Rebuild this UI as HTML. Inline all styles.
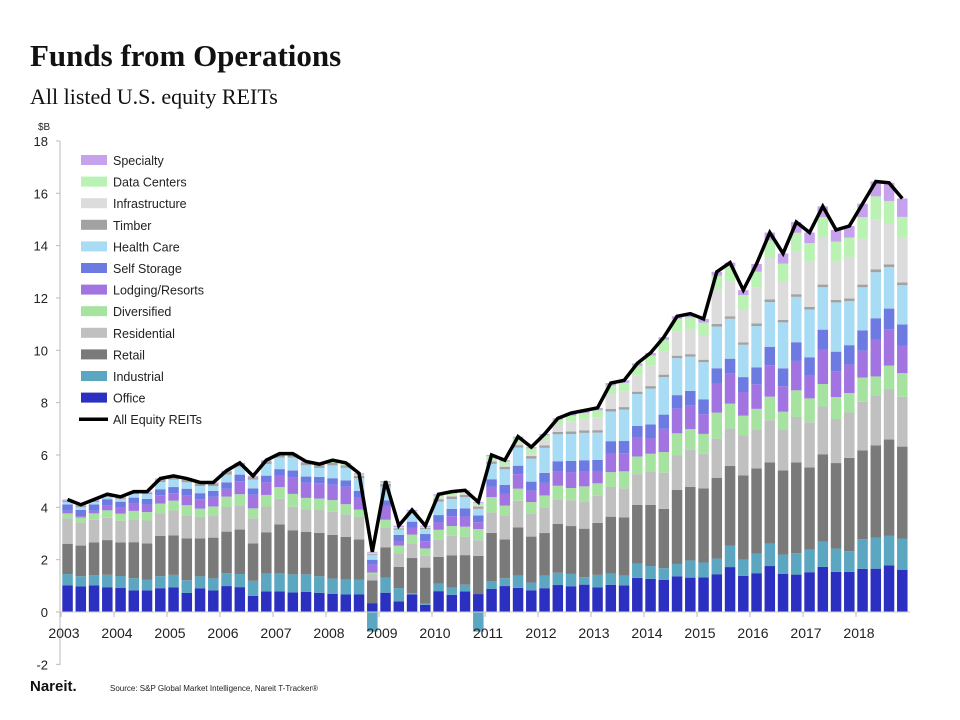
<!DOCTYPE html>
<html><head><meta charset="utf-8"><style>
body{margin:0;background:#fff;width:960px;height:720px;overflow:hidden;font-family:"Liberation Sans",sans-serif}
#title{position:absolute;left:30px;top:38px;font:bold 31px "Liberation Serif",serif;color:#111}
#sub{position:absolute;left:30px;top:84px;font:22px "Liberation Serif",serif;color:#111}
svg{position:absolute;left:0;top:0}
</style></head><body>
<div id="title">Funds from Operations</div>
<div id="sub">All listed U.S. equity REITs</div>
<svg id="c" width="960" height="720"></svg>
<script>
const years=['2003','2004','2005','2006','2007','2008','2009','2010','2011','2012','2013','2014','2015','2016','2017','2018'];
const yTicks=[-2,0,2,4,6,8,10,12,14,16,18];
const seriesNames=['Office','Industrial','Retail','Residential','Diversified','Lodging/Resorts','Self Storage','Health Care','Timber','Infrastructure','Data Centers','Specialty'];
const seriesColors=['#2c30c0','#5ba6c0','#7a7a7a','#c0c0c0','#a6e3a0','#a274e2','#6c7ae2','#a8dcf4','#a2a2a2','#dcdcdc','#b9f2b2','#c6a2ec'];
const office=[1.05,1.0,1.05,1.0,1.0,0.9,0.9,1.0,1.0,0.75,1.0,0.9,1.0,0.95,0.65,0.8,0.8,0.75,0.8,0.75,0.7,0.7,0.7,0.45,0.7,0.4,0.75,0.3,0.85,0.7,0.9,0.8,0.9,1.0,1.0,0.85,0.95,1.1,1.05,1.1,1.0,1.1,1.1,1.45,1.3,1.25,1.45,1.4,1.4,1.45,1.8,1.45,1.5,1.75,1.5,1.4,1.5,1.7,1.55,1.55,1.6,1.6,1.8,1.6];
const industrial=[.45,.4,.4,.5,.5,.5,.45,.5,.5,.5,.5,.5,.5,.5,.6,.7,.7,.7,.7,.65,.6,.6,.6,-.75,.55,.5,.05,.05,.3,.3,.3,-.75,.3,.3,.5,.3,.5,.5,.5,.3,.5,.45,.4,.6,.5,.45,.5,.7,.6,.6,.85,.65,.75,.85,.75,.8,.85,.95,.9,.8,1.1,1.15,1.15,1.2];
const retail=[1.2,1.2,1.3,1.4,1.4,1.5,1.5,1.7,1.6,1.65,1.6,1.7,1.6,1.7,1.5,1.6,1.9,1.7,1.7,1.7,1.7,1.7,1.6,1.15,1.1,0.8,1.5,1.5,1.1,1.3,1.3,1.7,1.9,1.5,2.0,1.8,1.7,2.0,1.95,1.95,2.1,2.3,2.4,2.5,2.4,2.3,3.0,3.0,3.0,3.1,3.2,3.4,3.3,3.1,3.3,3.4,3.1,3.3,3.3,3.6,3.3,3.4,3.7,3.5];
const residential=[1.0,.9,.9,.9,.9,.95,.95,.95,1.0,.9,.9,.9,.95,.9,1.0,1.0,1.0,.9,.9,.9,.9,.9,.9,.3,.7,.5,.6,.5,.7,.8,.8,.7,.8,.9,1.1,.9,1.0,1.0,1.05,1.1,1.1,1.2,1.2,1.3,1.3,1.4,1.4,1.5,1.4,1.5,1.5,1.6,1.5,1.6,1.6,1.7,1.7,1.8,1.7,1.75,1.8,1.85,1.95,1.9];
const diversified=[.2,.2,.25,.3,.3,.35,.35,.4,.4,.4,.35,.4,.4,.45,.4,.45,.45,.5,.45,.45,.45,.4,.3,.1,.3,.3,.4,.3,.4,.4,.45,.5,.6,.4,.5,.45,.5,.55,.5,.6,.5,.6,.7,.75,.7,.8,.9,.85,.8,1.0,1.0,.8,.8,.9,.7,1.0,.9,.85,.85,.75,.9,.7,.9,.9];
const lodging=[.1,.05,.1,.2,.25,.3,.3,.35,.3,.4,.4,.4,.3,.5,.55,.5,.45,.65,.6,.6,.6,.7,.5,.4,.5,.15,.3,.3,.3,.4,.45,.3,.4,.45,.6,.45,.5,.6,.65,.6,.5,.75,.75,.8,.6,.9,1.0,.95,.8,1.1,1.2,.95,.95,1.2,1.0,1.1,.85,1.3,1.0,1.1,1.0,1.35,1.4,1.05];
const storage=[.25,.25,.25,.25,.25,.25,.25,.25,.25,.25,.25,.25,.25,.25,.25,.25,.25,.25,.25,.25,.25,.25,.25,.25,.2,.25,.25,.3,.3,.3,.35,.3,.3,.35,.35,.35,.4,.4,.45,.45,.45,.5,.5,.5,.55,.55,.55,.6,.6,.6,.6,.6,.65,.7,.7,.7,.7,.75,.75,.75,.75,.8,.8,.8];
const health=[.1,.1,.1,.1,.1,.15,.2,.3,.3,.25,.3,.2,.3,.3,.35,.45,.45,.5,.45,.35,.5,.5,.5,.25,.5,.2,.35,.2,.55,.4,.5,.3,.6,.6,.75,.9,1.0,1.1,1.1,1.1,1.1,1.2,1.3,1.35,1.4,1.45,1.5,1.4,1.5,1.6,1.6,1.3,1.6,1.7,1.8,1.7,1.8,1.6,1.9,1.7,1.6,1.7,1.6,1.5];
const timber=[.05,.05,.05,.05,.05,.05,.05,.1,.1,.1,.1,.1,.1,.1,.1,.1,.1,.1,.1,.1,.1,.1,.1,.05,.1,.05,.05,.05,.1,.1,.1,.1,.1,.1,.1,.1,.1,.1,.1,.1,.1,.1,.1,.1,.1,.1,.1,.1,.1,.1,.1,.1,.1,.1,.1,.1,.1,.1,.1,.1,.1,.1,.1,.1];
const infrastructure=[0,0,0,0,0,0,0,0,0,0,0,0,0,0,0,0,0,0,0,0,0,0,0,0,0,0,0,0,.05,.05,.05,.05,.05,.05,.1,.1,.2,.3,.4,.45,.5,.6,.65,.7,.8,.9,1.0,1.0,1.0,1.3,1.4,1.3,1.4,1.6,1.5,1.6,1.7,1.8,1.5,1.6,1.7,1.85,1.6,1.7];
const dataCenters=[0,0,0,0,0,0,0,0,0,0,0,0,0,0,0,0,0,0,0,0,.05,.05,.05,.05,.05,.05,.05,.05,.1,.1,.1,.1,.15,.15,.2,.2,.2,.2,.25,.25,.3,.35,.35,.4,.4,.45,.5,.5,.5,.55,.6,.6,.6,.65,.7,.7,.7,.75,.75,.75,.8,.85,.85,.8];
const specialty=[.05,.05,.05,.05,.05,.05,.05,.05,.05,.05,.05,.05,.05,.05,.05,.05,.05,.05,.05,.05,.05,.05,.05,.05,.05,.05,.05,.05,.05,.05,.05,.05,.05,.05,.05,.05,.05,.05,.1,.1,.1,.1,.1,.1,.1,.1,.1,.15,.15,.15,.15,.2,.3,.3,.4,.4,.4,.4,.45,.45,.5,.55,.7,.7];
const totalFFO=[4.3,4.1,4.3,4.5,4.4,4.6,4.6,5.1,5.2,5.1,4.95,4.95,5.4,5.7,5.2,5.8,6.05,6.05,5.75,5.65,5.8,5.7,5.3,2.3,5.0,3.3,3.9,3.3,4.5,4.6,4.65,4.2,6.0,5.8,6.7,6.3,6.8,7.4,7.6,7.7,7.8,8.75,8.85,9.5,9.9,10.5,11.3,11.4,11.2,13.0,13.35,12.3,13.3,14.5,13.7,14.9,14.5,15.5,14.6,14.75,15.6,16.45,16.4,15.8];
const series=[office,industrial,retail,residential,diversified,lodging,storage,health,timber,infrastructure,dataCenters,specialty];

const NS='http://www.w3.org/2000/svg';
const svg=document.getElementById('c');
const y0=612,pxPer=26.17,xStart=61,qW=13.25,barW=10.5;
const yS=v=>y0-v*pxPer;
const xS=i=>xStart+i*qW+1.3;
function mk(tag,attrs,parent){const e=document.createElementNS(NS,tag);for(const k in attrs)e.setAttribute(k,attrs[k]);(parent||svg).appendChild(e);return e;}

let ax=mk('line',{x1:60,x2:60,y1:141,y2:665,stroke:'#bbb'});


yTicks.forEach(t=>{
  const l=mk('line',{x1:56,x2:60,y1:yS(t),y2:yS(t),stroke:'#bbb'});
  
  
  const tx=mk('text',{x:48,y:yS(t)+5,'text-anchor':'end','font-size':13,fill:'#222'});
  tx.textContent=t;
  
  
});
const ub=mk('text',{x:38,y:130,'font-size':10,fill:'#222'});ub.textContent='$B';



for(let i=0;i<totalFFO.length;i++){
  let posSum=0;series.forEach(s=>{if(s[i]>0)posSum+=s[i];});
  const k0=posSum>0?totalFFO[i]/posSum:1;
  let pos=0,neg=0;
  series.forEach((s,k)=>{
    const v=s[i];if(!v)return;
    let yt,h;
    if(v>=0){const sv=v*k0;yt=yS(pos+sv);h=sv*pxPer;pos+=sv;}else{yt=yS(neg);h=-v*pxPer;neg+=v;}
    const r=mk('rect',{x:xS(i),y:yt,width:barW,height:h,fill:seriesColors[k]});
    
    
  });
}
let xa=mk('line',{x1:60,x2:910,y1:y0,y2:y0,stroke:'#ccc'});


years.forEach((yr,j)=>{
  const x=xStart+j*4*qW;
  const l=mk('line',{x1:x,x2:x,y1:y0,y2:y0+5,stroke:'#bbb'});
  
  
  const t=mk('text',{x:x+3,y:638,'text-anchor':'middle','font-size':14,fill:'#222'});
  t.textContent=yr;
  
  
});
const pts=totalFFO.map((v,i)=>(xS(i)+barW/2)+','+yS(v)).join(' ');
const pl=mk('polyline',{points:pts,fill:'none',stroke:'#000','stroke-width':3.5,'stroke-linejoin':'miter'});



const legNames=seriesNames.slice().reverse();
const legColors=seriesColors.slice().reverse();
legNames.forEach((n,j)=>{
  const y=160+j*21.6;
  const r=mk('rect',{x:81,y:y-5,width:26,height:10,fill:legColors[j]});
  
  
  const t=mk('text',{x:113,y:y+5,'font-size':12.5,fill:'#222'});t.textContent=n;
  
  
});
const ly=160+12*21.6;
const ll=mk('line',{x1:79,x2:108,y1:ly,y2:ly,stroke:'#000','stroke-width':3.5});


const lt=mk('text',{x:113,y:ly+5,'font-size':12.5,fill:'#222'});lt.textContent='All Equity REITs';



const nr=mk('text',{x:30,y:691,'font-size':15,'font-weight':'bold',fill:'#111'});nr.textContent='Nareit.';


const src=mk('text',{x:110,y:691,'font-size':8,fill:'#222'});src.textContent='Source: S&P Global Market Intelligence, Nareit T-Tracker®';


</script>
</body></html>
